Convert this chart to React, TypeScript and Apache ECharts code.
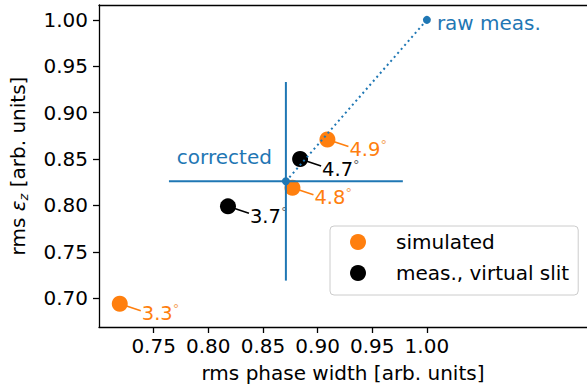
import React, { useEffect, useRef } from "react";
import * as echarts from "echarts";

// Emittance vs. phase width, normalised to the raw measurement
const simulatedX = [0.909, 0.877, 0.719];
const simulatedY = [0.871, 0.819, 0.694];
const simulatedLabels = ["4.9", "4.8", "3.3"];

const slitX = [0.884, 0.818];
const slitY = [0.85, 0.799];
const slitLabels = ["4.7", "3.7"];

const rawPoint = [1.0, 1.0];
const correctedPoint = [0.871, 0.826];
const correctedErrX = 0.107;
const correctedErrY = 0.107;

const xTicks = [0.75, 0.8, 0.85, 0.9, 0.95, 1.0];
const yTicks = [0.7, 0.75, 0.8, 0.85, 0.9, 0.95, 1.0];

const BLUE = "#1f77b4";
const ORANGE = "#ff7f0e";
const BLACK = "#000000";
const FONT = "DejaVu Sans";
const FS = 20;

function annotationSeries(xs: number[], ys: number[], labels: string[], color: string, degColor: string) {
  return {
    type: "custom",
    z: 1,
    silent: true,
    data: xs.map((x, i) => [x, ys[i]]),
    renderItem: (params: any, api: any) => {
      const p = api.coord([api.value(0), api.value(1)]);
      return {
        type: "group",
        children: [
          {
            type: "line",
            shape: { x1: p[0], y1: p[1], x2: p[0] + 21, y2: p[1] + 7 },
            style: { stroke: color, lineWidth: 1.6 },
          },
          {
            type: "text",
            x: p[0] + 22,
            y: p[1] + 10,
            style: {
              text: labels[params.dataIndex] + "{d|°}",
              fill: color,
              fontFamily: FONT,
              fontSize: 19.5,
              lineHeight: 17,
              align: "left",
              verticalAlign: "middle",
              rich: {
                d: { fontSize: 13, lineHeight: 17, fill: degColor, fontFamily: FONT, padding: [0, 0, 10, 0] },
              },
            },
          },
        ],
      };
    },
  };
}

export default function App() {
  const ref = useRef<HTMLDivElement>(null);

  useEffect(() => {
    if (!ref.current) return;
    const chart = echarts.init(ref.current, null, { renderer: "svg" });

    const axisText = { color: BLACK, fontFamily: FONT, fontSize: FS };

    chart.setOption({
      animation: false,
      backgroundColor: "#ffffff",
      textStyle: { fontFamily: FONT },
      grid: { left: 97, top: 5, right: 0, bottom: 65 },
      legend: {
        data: [
          { name: "simulated", icon: "circle", itemStyle: { color: ORANGE } },
          { name: "meas., virtual slit", icon: "circle", itemStyle: { color: BLACK } },
        ],
        orient: "vertical",
        left: 330,
        top: 226,
        itemWidth: 16,
        itemHeight: 16,
        itemGap: 11,
        padding: [6, 9, 12, 20],
        borderColor: "#cccccc",
        borderWidth: 1,
        borderRadius: 4,
        backgroundColor: "#ffffff",
        textStyle: { color: BLACK, fontFamily: FONT, fontSize: FS, padding: [0, 0, 0, 25] },
      },
      xAxis: [
        {
          type: "value",
          min: 0.7,
          max: 1.1465,
          name: "rms phase width [arb. units]",
          nameLocation: "middle",
          nameGap: 36,
          nameTextStyle: axisText,
          axisLine: { show: true, onZero: false, lineStyle: { color: BLACK, width: 1.3 } },
          axisTick: { show: true, length: 6, customValues: xTicks, lineStyle: { color: BLACK, width: 1.3 } },
          axisLabel: {
            ...axisText,
            margin: 9,
            customValues: xTicks,
            formatter: (v: number) => v.toFixed(2),
          },
          splitLine: { show: false },
        },
        {
          type: "value",
          position: "top",
          min: 0.7,
          max: 1.1465,
          axisLine: { show: true, lineStyle: { color: BLACK, width: 1.3 } },
          axisTick: { show: false },
          axisLabel: { show: false },
          splitLine: { show: false },
        },
      ],
      yAxis: {
        type: "value",
        min: 0.669,
        max: 1.016,
        name: "{a|rms }{e|ε}{s|z}{a| [arb. units]}",
        nameLocation: "middle",
        nameRotate: 90,
        nameGap: 69,
        nameTextStyle: {
          ...axisText,
          rich: {
            a: { fontFamily: FONT, fontSize: FS, color: BLACK },
            e: { fontFamily: FONT, fontSize: FS, color: BLACK, fontStyle: "italic" },
            s: { fontFamily: FONT, fontSize: 13, color: BLACK, fontStyle: "italic", padding: [11, 0, 0, 0] },
          },
        },
        axisLine: { show: true, onZero: false, lineStyle: { color: BLACK, width: 1.3 } },
        axisTick: { show: true, length: 6, customValues: yTicks, lineStyle: { color: BLACK, width: 1.3 } },
        axisLabel: {
          ...axisText,
          margin: 11,
          customValues: yTicks,
          formatter: (v: number) => v.toFixed(2),
        },
        splitLine: { show: false },
      },
      series: [
        annotationSeries(simulatedX, simulatedY, simulatedLabels, ORANGE, "#f5a560"),
        annotationSeries(slitX, slitY, slitLabels, BLACK, "#666666"),
        {
          name: "simulated",
          type: "scatter",
          z: 2,
          symbol: "circle",
          symbolSize: 16,
          itemStyle: { color: ORANGE, opacity: 1 },
          data: simulatedX.map((x, i) => [x, simulatedY[i]]),
        },
        {
          name: "meas., virtual slit",
          type: "scatter",
          z: 2,
          symbol: "circle",
          symbolSize: 16,
          itemStyle: { color: BLACK, opacity: 1 },
          data: slitX.map((x, i) => [x, slitY[i]]),
        },
        // error cross around the corrected value
        {
          type: "custom",
          z: 3,
          silent: true,
          data: [[correctedPoint[0], correctedPoint[1], correctedErrX, correctedErrY]],
          renderItem: (params: any, api: any) => {
            const x = api.value(0);
            const y = api.value(1);
            const ex = api.value(2);
            const ey = api.value(3);
            const l = api.coord([x - ex, y]);
            const r = api.coord([x + ex, y]);
            const t = api.coord([x, y + ey]);
            const b = api.coord([x, y - ey]);
            const st = { stroke: BLUE, lineWidth: 2 };
            return {
              type: "group",
              children: [
                { type: "line", shape: { x1: l[0], y1: l[1], x2: r[0], y2: r[1] }, style: st },
                { type: "line", shape: { x1: t[0], y1: t[1], x2: b[0], y2: b[1] }, style: st },
              ],
            };
          },
        },
        {
          type: "line",
          z: 4,
          silent: true,
          symbol: "none",
          lineStyle: { color: BLUE, width: 2, type: [2, 3.3], cap: "butt" },
          data: [correctedPoint, rawPoint],
        },
        {
          type: "scatter",
          z: 5,
          silent: true,
          symbol: "circle",
          symbolSize: 8,
          itemStyle: { color: BLUE, opacity: 1 },
          data: [
            {
              value: rawPoint,
              label: {
                show: true,
                formatter: "raw meas.",
                position: "right",
                distance: 6,
                offset: [0, 3],
                color: BLUE,
                fontFamily: FONT,
                fontSize: FS,
              },
            },
            {
              value: correctedPoint,
              label: {
                show: true,
                formatter: "corrected",
                position: "left",
                distance: 10,
                offset: [0, -24],
                color: BLUE,
                fontFamily: FONT,
                fontSize: FS,
              },
            },
          ],
        },
      ],
    });

    return () => chart.dispose();
  }, []);

  return <div ref={ref} style={{ width: 587, height: 392, position: "absolute", left: 0, top: 0 }} />;
}
